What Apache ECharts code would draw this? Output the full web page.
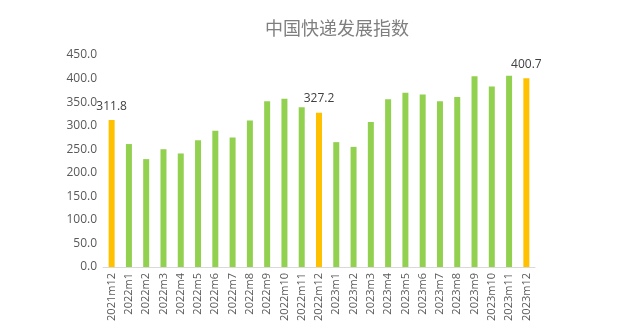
<!DOCTYPE html>
<html><head><meta charset="utf-8">
<script src="https://cdn.jsdelivr.net/npm/echarts@6/dist/echarts.min.js"></script>
<style>html,body{margin:0;padding:0;background:#fff}#c{width:626px;height:333px}</style>
</head><body><div id="c"></div>
<script>
const categories = ["2021m12","2022m1","2022m2","2022m3","2022m4","2022m5","2022m6","2022m7","2022m8","2022m9","2022m10","2022m11","2022m12","2023m1","2023m2","2023m3","2023m4","2023m5","2023m6","2023m7","2023m8","2023m9","2023m10","2023m11","2023m12"];
const values = [311.8,261,229,250,241,269,289,275,311,352,357,339,327.2,265,255,308,356,370,366,352,361,405,383,406,400.7];
const highlighted = ["2021m12","2022m12","2023m12"];
const yTicks = [0,50,100,150,200,250,300,350,400,450];

const chart = echarts.init(document.getElementById('c'));
const data = values.map((v,i)=>{
  const hi = highlighted.includes(categories[i]);
  return {value:v, itemStyle:{color: hi ? '#FFC000' : '#92D050'},
    label:{show: hi}};
});
chart.setOption({
  animation:false,
  title:{text:'中国快递发展指数', left:260, top:14,
    textStyle:{fontFamily:'Noto Sans CJK SC', fontSize:18, fontWeight:'normal', color:'#7F7F7F'}},
  grid:{left:103, right:91, top:55, bottom:66},
  xAxis:{type:'category', data:categories,
    axisLine:{lineStyle:{color:'#D9D9D9'}}, axisTick:{show:false},
    axisLabel:{rotate:90, interval:0, fontSize:11, color:'#595959', fontFamily:'Open Sans', margin:6}},
  yAxis:{type:'value', min:yTicks[0], max:yTicks[yTicks.length-1], interval:50,
    axisLine:{show:false}, axisTick:{show:false}, splitLine:{show:false},
    axisLabel:{formatter:v=>v.toFixed(1), fontSize:12, color:'#595959', fontFamily:'Open Sans', margin:6}},
  series:[{type:'bar', data:data, barWidth:6,
    label:{position:'top', distance:8, formatter:p=>p.value.toFixed(1), fontSize:12, color:'#404040', fontFamily:'Open Sans'}}]
});
</script></body></html>
